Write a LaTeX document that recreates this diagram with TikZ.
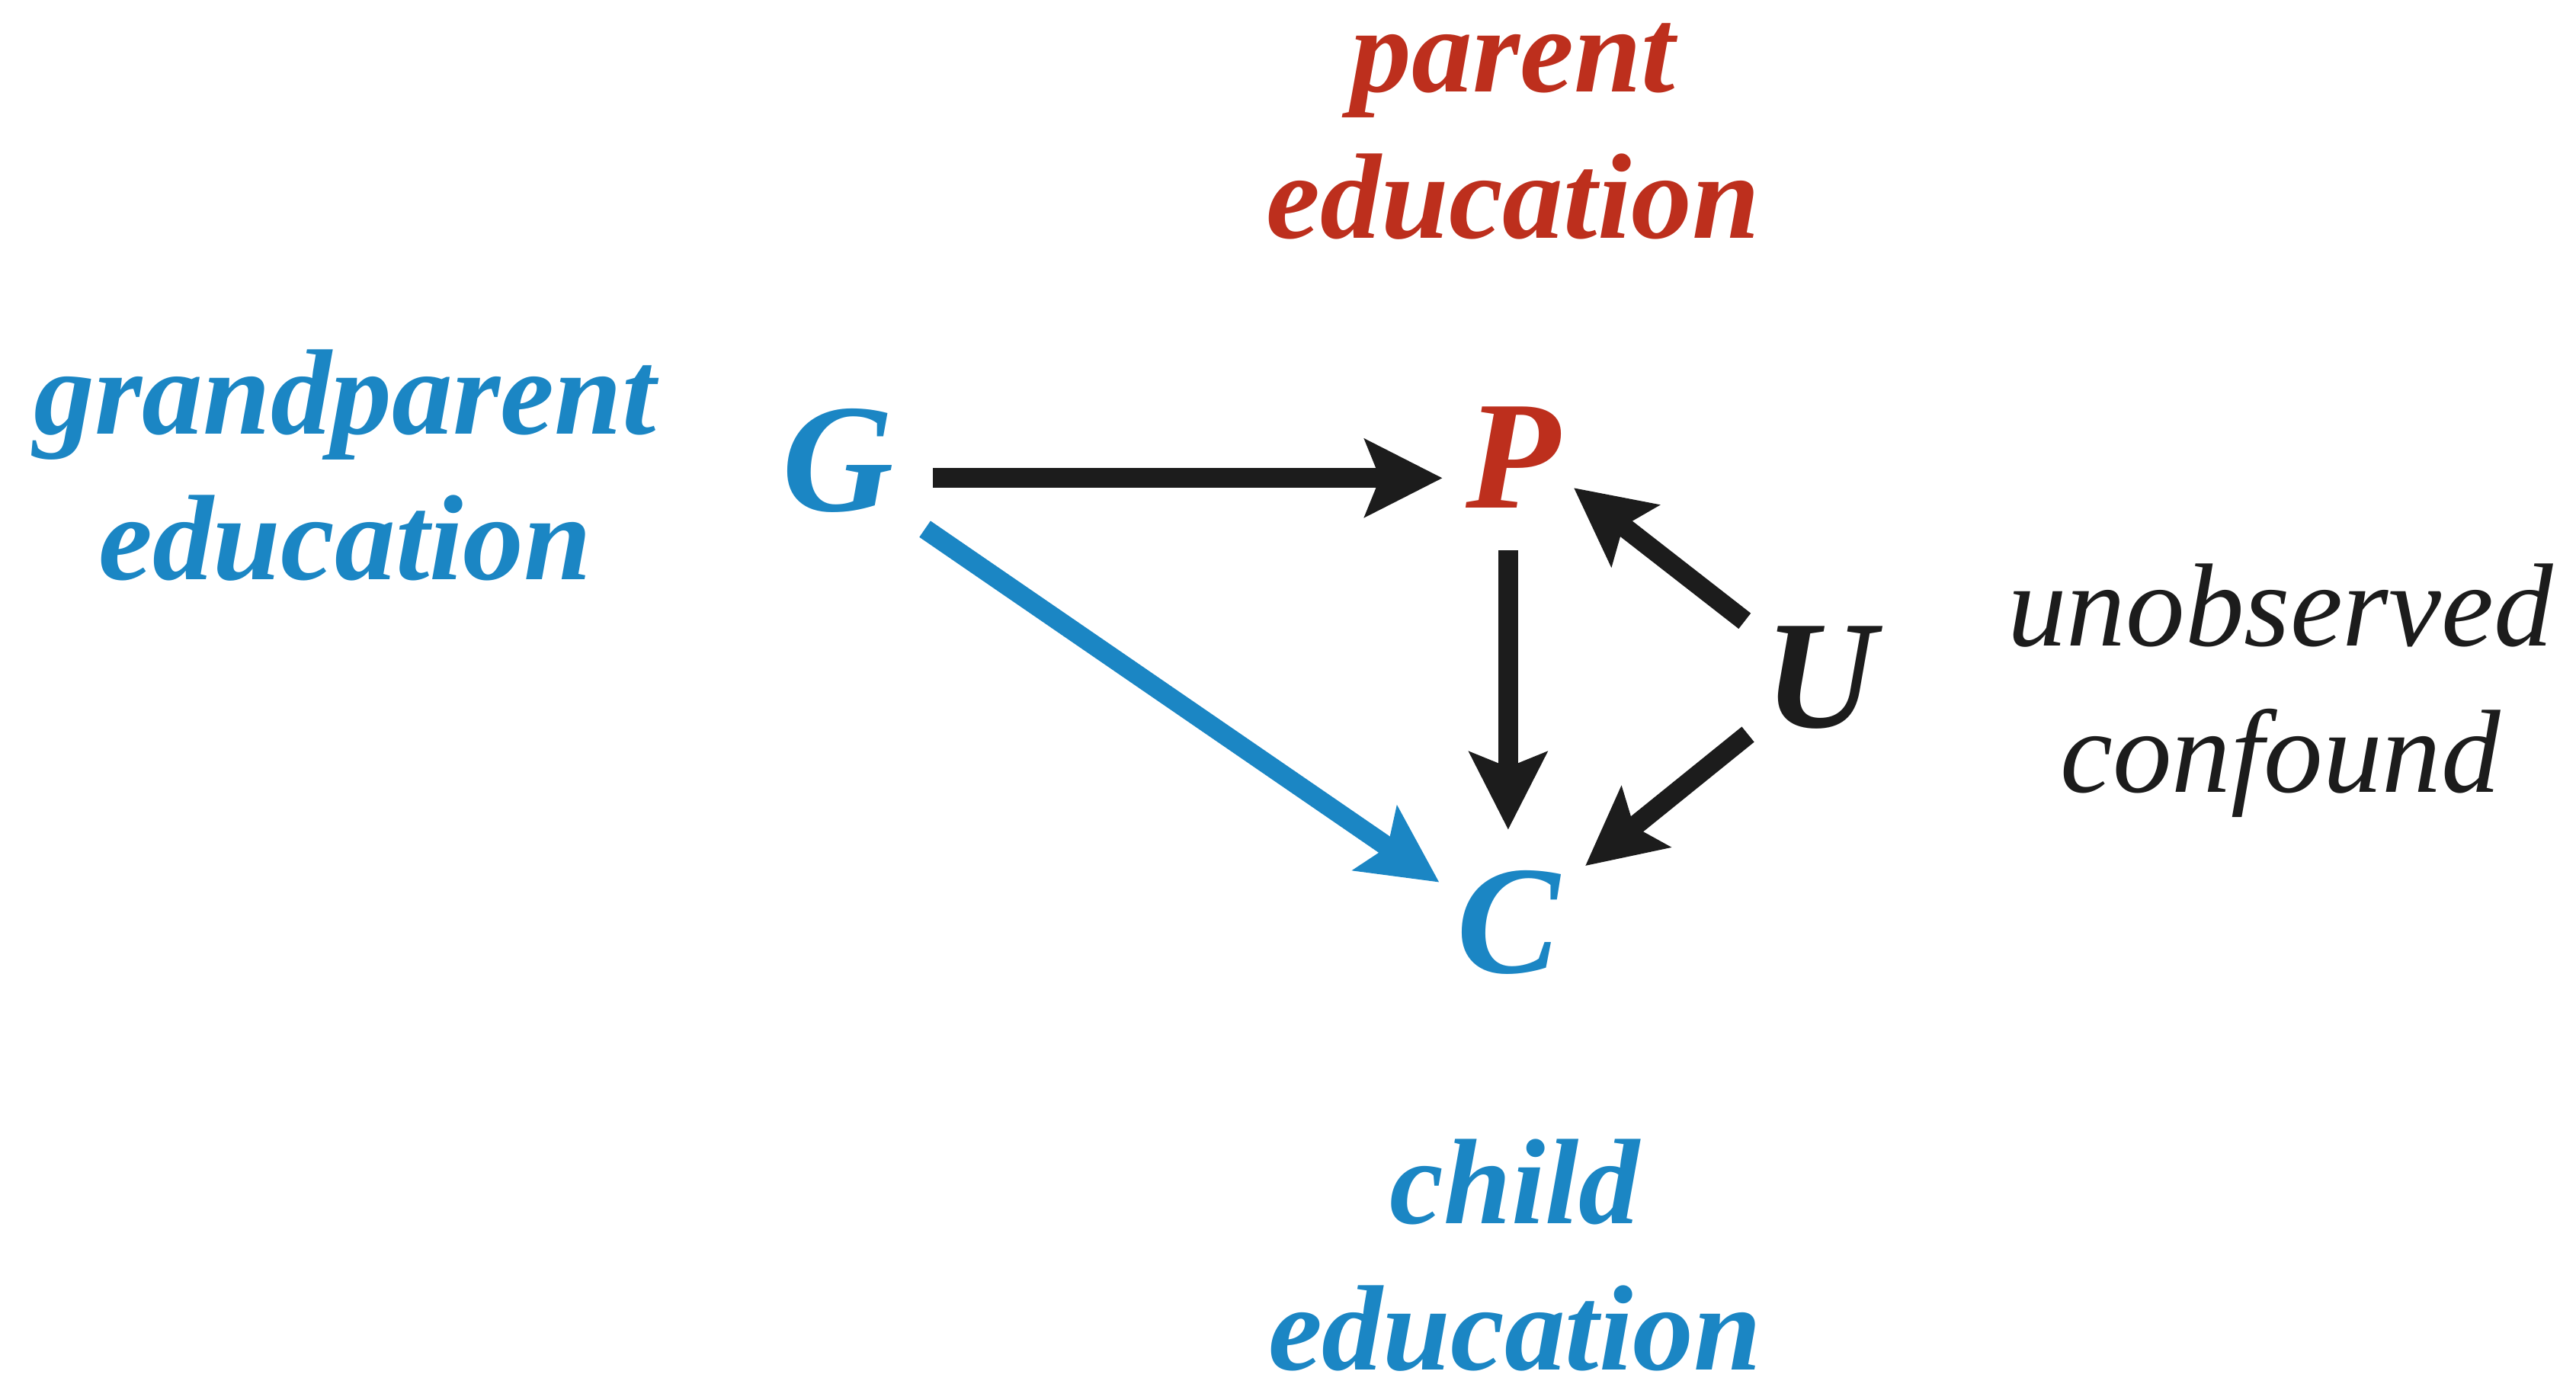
\documentclass[tikz,border=0pt]{standalone}
\usepackage{fontspec}
\setmainfont{Liberation Serif}
\usetikzlibrary{arrows.meta,calc}
\definecolor{gblue}{HTML}{1B86C4}
\definecolor{pred}{HTML}{BD2F1D}
\definecolor{ink}{HTML}{1C1C1C}

\begin{document}
\begin{tikzpicture}[x=0.5pt,y=-0.5pt,
  var/.style={font=\fontsize{47}{47}\selectfont\bfseries\itshape,
    inner sep=0pt, text height=31pt, text depth=0pt, anchor=base},
  lbl/.style={font=\fontsize{37}{44.5}\selectfont\bfseries\itshape,
    align=center, inner sep=0pt, anchor=base},
  note/.style={font=\fontsize{36}{44.5}\selectfont\itshape,
    align=center, inner sep=0pt, anchor=base},
  arr/.style={line width=6pt,
    -{Stealth[length=23.5pt,width=23.5pt,inset=4.5pt]}}
]
\useasboundingbox (0,0) rectangle (1568,842);

% variables
\node[var, text=gblue] (G) at (510,311) {G};
\node[var, text=pred]  (P) at (921,309) {P};
\node[var, text=ink]   (U) at (1108,443) {U};
\node[var, text=gblue] (C) at (918,592) {C};

% labels (base anchor sits on the last line)
\node[lbl, text=pred]  (Plab) at (921,145)  {parent\\education};
\node[lbl, text=gblue] (Glab) at (210,353)  {grandparent\\education};
\node[note, text=ink]  (Ulab) at (1388,482) {unobserved\\confound};
\node[lbl, text=gblue] (Clab) at (922,834)  {child\\education};

% causal arrows
\draw[arr, ink]   ($(G)+(58,11)$)   -- ($(P)+(-43,13)$);
\draw[arr, ink]   ($(P)+(-3,57)$)   -- ($(C)+(0,-56)$);
\draw[arr, ink]   ($(U)+(-46,-34)$) -- ($(P)+(37,19)$);
\draw[arr, ink]   ($(U)+(-44,35)$)  -- ($(C)+(47,-34)$);
\draw[arr, gblue] ($(G)+(53,42)$)   -- ($(C)+(-42,-24)$);
\end{tikzpicture}
\end{document}
